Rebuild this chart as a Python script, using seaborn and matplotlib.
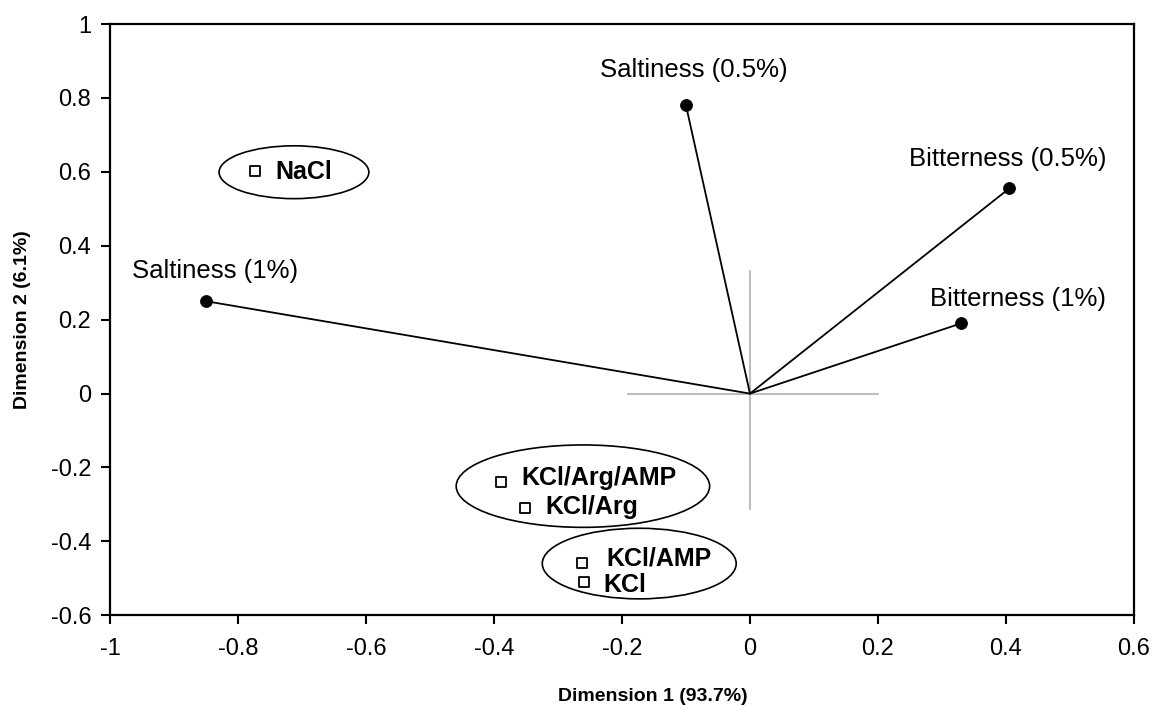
import matplotlib
matplotlib.use("Agg")
import matplotlib.pyplot as plt
from matplotlib.patches import Ellipse
import seaborn as sns
import pandas as pd

# ---- data ----
attr_names = ["Saltiness (0.5%)", "Bitterness (0.5%)", "Bitterness (1%)", "Saltiness (1%)"]
attr_x = [-0.100, 0.405, 0.330, -0.850]
attr_y = [0.780, 0.555, 0.190, 0.250]
attr_label_x = [-0.087, 0.402, 0.419, -0.835]
attr_label_y = [0.876, 0.636, 0.257, 0.333]

sample_names = ["NaCl", "KCl/Arg/AMP", "KCl/Arg", "KCl/AMP", "KCl"]
sample_x = [-0.773, -0.389, -0.352, -0.263, -0.259]
sample_y = [0.603, -0.238, -0.309, -0.459, -0.509]
sample_label_x = [-0.742, -0.357, -0.320, -0.225, -0.229]
sample_label_y = [0.600, -0.228, -0.308, -0.445, -0.518]

# group ellipses: centre x, centre y, width, height
ell_cx = [-0.7125, -0.261, -0.173]
ell_cy = [0.599, -0.2505, -0.460]
ell_w = [0.234, 0.396, 0.303]
ell_h = [0.143, 0.223, 0.191]

# reference cross at origin
cross_x = [-0.19, 0.20]
cross_y = [-0.313, 0.333]

x_ticks = [-1, -0.8, -0.6, -0.4, -0.2, 0, 0.2, 0.4, 0.6]
x_tick_labels = ["-1", "-0.8", "-0.6", "-0.4", "-0.2", "0", "0.2", "0.4", "0.6"]
y_ticks = [-0.6, -0.4, -0.2, 0, 0.2, 0.4, 0.6, 0.8, 1]
y_tick_labels = ["-0.6", "-0.4", "-0.2", "0", "0.2", "0.4", "0.6", "0.8", "1"]

x_label = "Dimension 1 (93.7%)"
y_label = "Dimension 2 (6.1%)"

# ---- style ----
sns.set_style("ticks")
plt.rcParams["font.family"] = ["Liberation Sans", "DejaVu Sans"]
plt.rcParams["axes.unicode_minus"] = False

fig = plt.figure(figsize=(11.55, 7.07), dpi=100)
ax = fig.add_axes([0.0952, 0.1297, 0.8866, 0.8363])

# reference cross
ax.plot(cross_x, [0, 0], color="#bdbdbd", lw=1.5, zorder=1)
ax.plot([0, 0], cross_y, color="#bdbdbd", lw=1.5, zorder=1)

# vectors
for x, y in zip(attr_x, attr_y):
    ax.plot([0, x], [0, y], color="black", lw=1.3, zorder=2)

attr_df = pd.DataFrame({"x": attr_x, "y": attr_y, "name": attr_names})
samp_df = pd.DataFrame({"x": sample_x, "y": sample_y, "name": sample_names})

sns.scatterplot(data=attr_df, x="x", y="y", ax=ax, color="black", s=75,
                edgecolor="black", linewidth=0.5, zorder=3, legend=False)
sns.scatterplot(data=samp_df, x="x", y="y", ax=ax, marker="s", s=60,
                facecolor="white", edgecolor="black", linewidth=1.3,
                zorder=3, legend=False)

for name, lx, ly in zip(attr_names, attr_label_x, attr_label_y):
    ax.text(lx, ly, name, ha="center", va="center", fontsize=18.5, color="black")

for name, lx, ly in zip(sample_names, sample_label_x, sample_label_y):
    ax.text(lx, ly, name, ha="left", va="center", fontsize=18,
            fontweight="bold", color="black")

for cx, cy, w, h in zip(ell_cx, ell_cy, ell_w, ell_h):
    ax.add_patch(Ellipse((cx, cy), w, h, fill=False, edgecolor="black",
                         lw=1.2, zorder=2))

ax.set_xlim(-1, 0.6)
ax.set_ylim(-0.6, 1)
ax.set_xticks(x_ticks)
ax.set_xticklabels(x_tick_labels)
ax.set_yticks(y_ticks)
ax.set_yticklabels(y_tick_labels)
ax.tick_params(axis="both", direction="out", length=6.5, width=1.5,
               labelsize=17, colors="black")
ax.tick_params(axis="x", pad=10)
ax.tick_params(axis="y", pad=7)

for sp in ax.spines.values():
    sp.set_visible(True)
    sp.set_color("black")
    sp.set_linewidth(1.6)

ax.set_xlabel(x_label, fontsize=14, fontweight="bold", color="black", va="center")
ax.set_ylabel(y_label, fontsize=14, fontweight="bold", color="black", va="center")
ax.xaxis.set_label_coords(0.53, -0.138)
ax.yaxis.set_label_coords(-0.085, 0.5)
ax.grid(False)

fig.savefig("out.png", dpi=100)
